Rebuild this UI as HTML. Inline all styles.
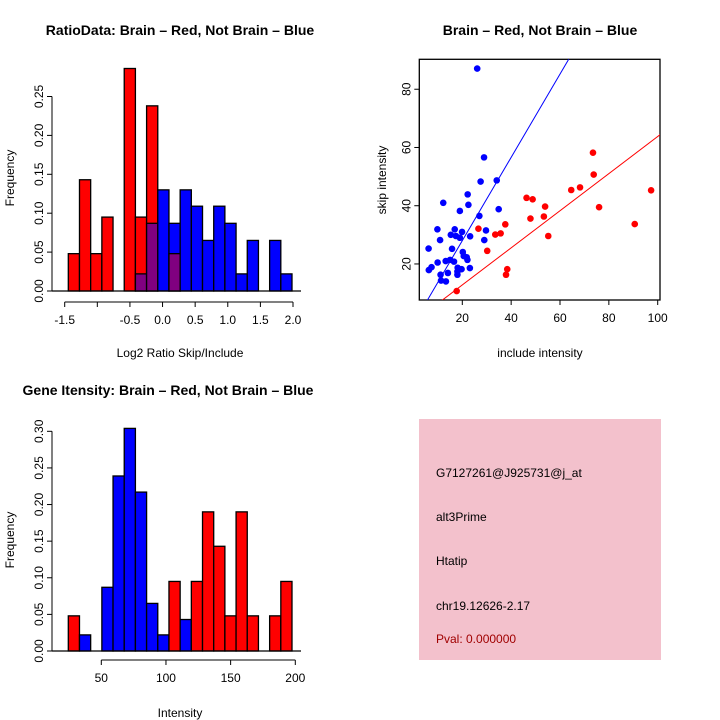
<!DOCTYPE html>
<html><head><meta charset="utf-8"><style>
body{margin:0;background:#fff}
svg{display:block;font-family:"Liberation Sans",sans-serif}
</style></head><body>
<svg id="s" width="720" height="720" viewBox="0 0 720 720">
<rect width="720" height="720" fill="#fff"/>
<g font-size="14" font-weight="bold" text-anchor="middle">
<text x="180" y="35">RatioData: Brain – Red, Not Brain – Blue</text>
<text x="540" y="35">Brain – Red, Not Brain – Blue</text>
<text x="168" y="395">Gene Itensity: Brain – Red, Not Brain – Blue</text>
</g>
<g font-size="12" text-anchor="middle">
<text x="180" y="357">Log2 Ratio Skip/Include</text>
<text transform="translate(14,178) rotate(-90)">Frequency</text>
<text x="540" y="357">include intensity</text>
<text transform="translate(386,180) rotate(-90)">skip intensity</text>
<text x="180" y="717">Intensity</text>
<text transform="translate(14,540) rotate(-90)">Frequency</text>
</g>
<g>
<rect x="419" y="419" width="242" height="241" fill="#f3c1cc"/>
<g font-size="12">
<text x="436" y="477">G7127261@J925731@j_at</text>
<text x="436" y="521">alt3Prime</text>
<text x="436" y="565">Htatip</text>
<text x="436" y="610">chr19.12626-2.17</text>
<text x="436" y="643" fill="#a00000">Pval: 0.000000</text>
</g></g>
</svg>
<script>
// Ratio histogram
const ratioRed=[0.048,0.143,0.048,0.095,0,0.286,0.095,0.238,0,0.048,0,0,0,0,0,0,0,0,0,0];
const ratioBlue=[0,0,0,0,0,0,0.022,0.087,0.130,0.087,0.130,0.109,0.065,0.109,0.087,0.022,0.065,0,0.065,0.022];
const ratioXTicks=[-1.5,-1.0,-0.5,0.0,0.5,1.0,1.5,2.0];
const ratioXLabels=["-1.5","","-0.5","0.0","0.5","1.0","1.5","2.0"];
const ratioYTicks=[0,0.05,0.10,0.15,0.20,0.25];
// Intensity histogram
const intRed=[0.048,0,0,0,0,0,0,0,0,0.095,0,0.095,0.190,0.143,0.048,0.190,0.048,0,0.048,0.095];
const intBlue=[0,0.022,0,0.087,0.239,0.304,0.217,0.065,0.022,0,0.043,0,0,0,0,0,0,0,0,0];
const intXTicks=[50,100,150,200];
const intYTicks=[0,0.05,0.10,0.15,0.20,0.25,0.30];
// Scatter
const blueX=[26.1,28.9,27.5,34.1,22.2,12.2,22.5,19.0,34.9,27.0,9.8,16.9,19.9,29.7,10.9,15.3,17.4,19.0,23.2,29.0,6.2,15.8,20.2,20.6,21.8,22.1,9.9,13.2,15.0,16.6,7.4,6.3,18.1,19.7,23.1,18.0,14.1,11.1,18.0,11.3,13.3];
const blueY=[87.1,56.6,48.3,48.7,43.9,41.0,40.3,38.2,38.8,36.5,31.9,31.9,31.0,31.5,28.2,30.0,29.6,29.0,29.5,28.2,25.3,25.2,24.1,22.7,22.3,21.4,20.5,21.0,21.4,20.8,18.9,17.9,18.7,18.2,18.6,17.4,16.9,16.3,16.3,14.3,14.0];
const redX=[26.6,30.2,33.5,35.7,37.6,38.4,37.9,17.7,46.3,48.8,47.9,53.9,53.4,55.2,64.6,68.2,73.5,73.8,76.0,90.6,97.3];
const redY=[32.1,24.5,30.1,30.5,33.6,18.2,16.3,10.7,42.7,42.2,35.6,39.7,36.3,29.6,45.4,46.3,58.2,50.7,39.5,33.7,45.3];
const blueFit=[-0.6,1.43];
const redFit=[0.06,0.637];
const scXTicks=[20,40,60,80,100];
const scYTicks=[20,40,60,80];

const NS="http://www.w3.org/2000/svg",S=document.getElementById('s');
function mk(t,a,p){const e=document.createElementNS(NS,t);for(const k in a)e.setAttribute(k,a[k]);(p||S).appendChild(e);return e;}
function line(x1,y1,x2,y2,p,c,w){return mk('line',{x1,y1,x2,y2,stroke:c||'#000','stroke-width':w||1},p);}

function hist(name,red,blue,x0,x1,yScale,baseY,xLeft,xRight){
  const g=mk('g',{});
  
  
  const n=red.length,bw=(x1-x0)/n;
  for(let i=0;i<n;i++){
    const r=red[i],b=blue[i],m=Math.min(r,b),bx=x0+i*bw;
    const draw=(v,c,nm)=>{if(v<=0)return;const e=mk('rect',{x:bx,y:yScale(v),width:bw,height:baseY-yScale(v),fill:c,stroke:'#000','stroke-width':1.3},g);
      
      };
    if(r>=b){draw(r,'#ff0000','red-bar');draw(m,'#800080','overlap-bar');}
    else{draw(b,'#0000ff','blue-bar');draw(m,'#800080','overlap-bar');}
  }
  line(xLeft,baseY,xRight,baseY,g,'#000',1.3);
}
function yAxis(name,ticks,ys,x,fmt){
  const g=mk('g',{'font-size':12,'text-anchor':'middle'});
  
  
  line(x,ys(ticks[0]),x,ys(ticks[ticks.length-1]),g);
  ticks.forEach(t=>{const y=ys(t);line(x-5,y,x,y,g);
    const tx=mk('text',{transform:`translate(${x-9},${y}) rotate(-90)`},g);tx.textContent=fmt(t);});
}
function xAxis(name,ticks,labels,xs,y){
  const g=mk('g',{'font-size':12,'text-anchor':'middle'});
  
  
  line(xs(ticks[0]),y,xs(ticks[ticks.length-1]),y,g);
  ticks.forEach((t,i)=>{const x=xs(t);line(x,y,x,y+5,g);
    const tx=mk('text',{x:x,y:y+22},g);tx.textContent=labels[i];});
}
// ratio
{const ys=v=>291-v*778;const xs=v=>64.7+(v+1.5)*65.23;
 hist('ratio',ratioRed,ratioBlue,68.3,292,ys,291,52,301);
 yAxis('ratio-y-axis',ratioYTicks,ys,52,t=>t.toFixed(2));
 xAxis('ratio-x-axis',ratioXTicks,ratioXLabels,xs,302);}
// intensity
{const ys=v=>651-v*732.3;const xs=v=>101.3+(v-50)*1.2933;
 hist('intensity',intRed,intBlue,68.3,292,ys,651,52,301);
 yAxis('intensity-y-axis',intYTicks,ys,52,t=>t.toFixed(2));
 xAxis('intensity-x-axis',intXTicks,intXTicks.map(String),xs,660);}
// scatter
{const xs=v=>413.45+v*2.4425, ys=v=>322.2-v*2.912;
 const L=419.3,R=660,T=59.3,B=300;
 const cp=mk('clipPath',{id:'sc'});mk('rect',{x:L,y:T,width:R-L,height:B-T},cp);
 const box=mk('rect',{x:L,y:T,width:R-L,height:B-T,fill:'none',stroke:'#000','stroke-width':1.3});
 
 
 const g=mk('g',{'clip-path':'url(#sc)'});
 
 
 const fl=(f,c,nm)=>{const a=-10,b=120;const e=line(xs(a),ys(f[0]+f[1]*a),xs(b),ys(f[0]+f[1]*b),g,c,1);
   
   };
 fl(blueFit,'#0000ff','blue-fit-line');fl(redFit,'#ff0000','red-fit-line');
 blueX.forEach((x,i)=>{const c=mk('circle',{cx:xs(x),cy:ys(blueY[i]),r:3.3,fill:'#0000ff'},g);
   
   });
 redX.forEach((x,i)=>{const c=mk('circle',{cx:xs(x),cy:ys(redY[i]),r:3.3,fill:'#ff0000'},g);
   
   });
 yAxis('scatter-y-axis',scYTicks,ys,L,String);
 xAxis('scatter-x-axis',scXTicks,scXTicks.map(String),xs,B);}
</script>
</body></html>
